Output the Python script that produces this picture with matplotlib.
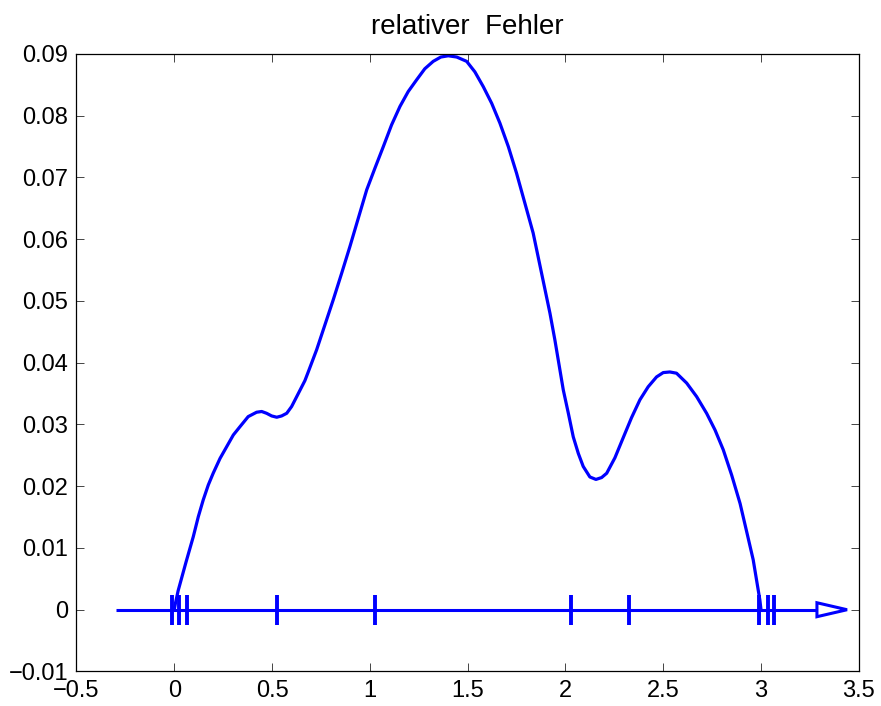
import matplotlib
matplotlib.use("Agg")
import matplotlib.pyplot as plt
from matplotlib.patches import Polygon

plt.rcParams['font.family'] = ['Liberation Sans', 'DejaVu Sans']

title = "relativer  Fehler"

curve_x = [0.0, 0.007, 0.020, 0.060, 0.097, 0.123, 0.148, 0.174, 0.199, 0.234,
           0.268, 0.302, 0.336, 0.378, 0.421, 0.447, 0.472, 0.498, 0.524, 0.549,
           0.575, 0.600, 0.626, 0.668, 0.685, 0.728, 0.770, 0.813, 0.856, 0.898,
           0.941, 0.984, 1.026, 1.069, 1.111, 1.154, 1.196, 1.239, 1.281, 1.324,
           1.363, 1.401, 1.444, 1.495, 1.537, 1.580, 1.623, 1.665, 1.708, 1.750,
           1.793, 1.835, 1.878, 1.921, 1.946, 1.989, 2.015, 2.040, 2.066, 2.091,
           2.125, 2.156, 2.185, 2.211, 2.253, 2.296, 2.338, 2.381, 2.423, 2.466,
           2.500, 2.534, 2.568, 2.620, 2.671, 2.722, 2.765, 2.807, 2.850, 2.893,
           2.927, 2.960, 2.994, 3.0]
curve_y = [0.0, 0.0012, 0.0031, 0.0077, 0.0118, 0.01507, 0.01777, 0.0202, 0.0221, 0.0245,
           0.0264, 0.0283, 0.02964, 0.03127, 0.03198, 0.0321, 0.03181, 0.03138, 0.03117, 0.03138,
           0.03181, 0.0329, 0.0345, 0.0371, 0.0385, 0.0421, 0.0461, 0.0502, 0.0545, 0.0588,
           0.0634, 0.0680, 0.0715, 0.0750, 0.0785, 0.0815, 0.0839, 0.0858, 0.0876, 0.0888,
           0.0895, 0.0897, 0.0895, 0.0888, 0.0871, 0.0847, 0.0820, 0.0788, 0.0750, 0.0707,
           0.0658, 0.0610, 0.0545, 0.0480, 0.0437, 0.0356, 0.0318, 0.0280, 0.0253, 0.0232,
           0.0215, 0.0211, 0.0214, 0.0221, 0.0246, 0.0279, 0.0311, 0.0340, 0.0361, 0.0377,
           0.0384, 0.0385, 0.0383, 0.0367, 0.0345, 0.0318, 0.0291, 0.0259, 0.0218, 0.0172,
           0.0126, 0.0081, 0.0016, 0.0]

# node markers on the axis line
nodes = [-0.013, 0.024, 0.066, 0.527, 1.028, 2.028, 2.326, 2.991, 3.034, 3.067]

# axis line with arrow
axis_start = -0.298
arrow_base = 3.286
arrow_tip = 3.44
arrow_half = 0.00113

xticks = [-0.5, 0, 0.5, 1, 1.5, 2, 2.5, 3, 3.5]
xticklabels = ['\u22120.5', '0', '0.5', '1', '1.5', '2', '2.5', '3', '3.5']
yticks = [-0.01, 0, 0.01, 0.02, 0.03, 0.04, 0.05, 0.06, 0.07, 0.08, 0.09]
yticklabels = ['\u22120.01', '0', '0.01', '0.02', '0.03', '0.04', '0.05', '0.06',
               '0.07', '0.08', '0.09']

fig = plt.figure(figsize=(8.81, 7.06), dpi=100)
ax = fig.add_axes([0.0868, 0.0489, 0.888, 0.8747])

blue = '#0000ff'
ax.plot([axis_start, arrow_base], [0, 0], color=blue, lw=2.2, solid_capstyle='butt')
ax.add_patch(Polygon([[arrow_base, arrow_half], [arrow_tip, 0], [arrow_base, -arrow_half]],
                     closed=True, facecolor='white', edgecolor=blue, lw=2.2, zorder=3))
ax.plot(nodes, [0] * len(nodes), linestyle='none', marker='|', markersize=21,
        markeredgewidth=2.8, color=blue)
ax.plot(curve_x, curve_y, color=blue, lw=2.3, solid_joinstyle='round')

ax.set_xlim(-0.5, 3.5)
ax.set_ylim(-0.01, 0.09)
ax.set_xticks(xticks)
ax.set_xticklabels(xticklabels)
ax.set_yticks(yticks)
ax.set_yticklabels(yticklabels)
ax.tick_params(direction='in', length=5.5, width=0.7, top=True, right=True,
               labelsize=17, pad=6, color='#444444')
for s in ax.spines.values():
    s.set_linewidth(0.9)
ax.set_title(title, fontsize=20, pad=14)

fig.savefig('out.png', dpi=100)
